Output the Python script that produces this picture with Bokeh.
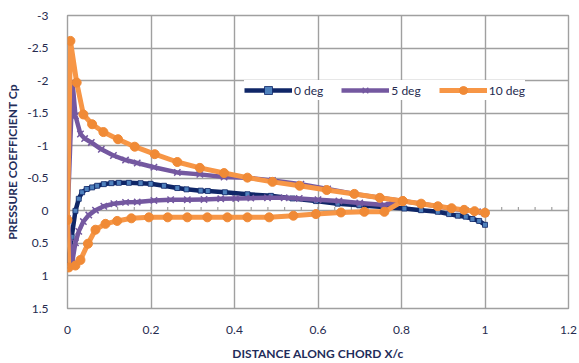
from bokeh.plotting import figure
from bokeh.models import Range1d, FixedTicker, Legend, LegendItem
from bokeh.embed import file_html
from bokeh.resources import INLINE
import numpy as np

# Pressure coefficient along the chord for three angles of attack
# 0 deg: leading edge to trailing edge (both surfaces coincide)
x_0deg = [0.0, 0.010, 0.019, 0.027, 0.035, 0.046, 0.059, 0.071, 0.087, 0.105, 0.123,
          0.147, 0.175, 0.199, 0.231, 0.263, 0.285, 0.319, 0.336, 0.377, 0.431, 0.487,
          0.539, 0.595, 0.647, 0.699, 0.755, 0.807, 0.847, 0.887, 0.914, 0.935, 0.954,
          0.970, 0.986, 1.0]
cp_0deg = [0.84, 0.40, 0.0, -0.185, -0.285, -0.335, -0.36, -0.385, -0.41, -0.425, -0.43,
           -0.43, -0.425, -0.415, -0.385, -0.35, -0.33, -0.31, -0.305, -0.285, -0.255, -0.23,
           -0.19, -0.15, -0.11, -0.085, -0.06, -0.035, -0.01, 0.015, 0.05, 0.075, 0.09,
           0.125, 0.155, 0.215]

# 5 deg: upper surface (x = 0.8 towards the nose), nose, lower surface, then on to the trailing edge
x_5deg = [0.803, 0.748, 0.687, 0.623, 0.559, 0.491, 0.431, 0.375, 0.317, 0.263, 0.207,
          0.167, 0.139, 0.110, 0.081, 0.057, 0.041, 0.031, 0.019, 0.012,
          0.0, 0.011,
          0.019, 0.027, 0.038, 0.051, 0.067, 0.087, 0.111, 0.139, 0.167, 0.207, 0.247,
          0.287, 0.327, 0.367, 0.403, 0.439, 0.479, 0.519, 0.555, 0.600, 0.650, 0.700,
          0.759,
          0.803, 0.847, 0.887, 0.918, 0.950, 0.982, 1.0]
cp_5deg = [-0.15, -0.20, -0.26, -0.335, -0.41, -0.465, -0.51, -0.52, -0.56, -0.59, -0.67,
           -0.735, -0.78, -0.85, -0.945, -1.05, -1.11, -1.18, -1.46, -1.98,
           0.12, 0.80,
           0.49, 0.315, 0.165, 0.065, -0.01, -0.07, -0.11, -0.13, -0.135, -0.16, -0.17,
           -0.17, -0.175, -0.185, -0.19, -0.195, -0.2, -0.2, -0.19, -0.17, -0.15, -0.12,
           -0.09,
           -0.15, -0.11, -0.07, -0.035, -0.01, 0.015, 0.04]

# 10 deg: same ordering as above
x_10deg = [0.803, 0.748, 0.687, 0.621, 0.556, 0.491, 0.431, 0.375, 0.317, 0.263, 0.209,
           0.161, 0.121, 0.086, 0.059, 0.038, 0.022, 0.007,
           0.0, 0.003,
           0.019, 0.031, 0.049, 0.067, 0.091, 0.119, 0.153, 0.195, 0.240, 0.287, 0.335,
           0.383, 0.431, 0.483, 0.541, 0.595, 0.655, 0.711, 0.759,
           0.803, 0.847, 0.887, 0.920, 0.950, 0.975, 1.0]
cp_10deg = [-0.15, -0.20, -0.26, -0.32, -0.385, -0.445, -0.51, -0.58, -0.66, -0.75, -0.87,
            -0.985, -1.10, -1.21, -1.33, -1.48, -1.97, -2.61,
            0.14, 0.87,
            0.84, 0.755, 0.505, 0.29, 0.20, 0.155, 0.115, 0.10, 0.10, 0.10, 0.10,
            0.10, 0.10, 0.10, 0.075, 0.05, 0.025, 0.015, 0.015,
            -0.15, -0.11, -0.07, -0.04, -0.015, 0.005, 0.03]

series_names = ["0 deg", "5 deg", "10 deg"]

x_ticks = [0, 0.2, 0.4, 0.6, 0.8, 1.0, 1.2]
x_tick_labels = ["0", "0.2", "0.4", "0.6", "0.8", "1", "1.2"]
y_ticks = [-3, -2.5, -2, -1.5, -1, -0.5, 0, 0.5, 1, 1.5]
y_tick_labels = ["-3", "-2.5", "-2", "-1.5", "-1", "-0.5", "0", "0.5", "1", "1.5"]

FONT = "Lato"
TEXT = "#262b4f"
GRID = "#a0a0a0"

p = figure(width=579, height=363, output_backend="svg", toolbar_location=None,
           x_range=Range1d(0, 1.2), y_range=Range1d(1.5, -3),
           min_border_left=67, min_border_right=11, min_border_top=15,
           min_border_bottom=49)
p.background_fill_color = "white"
p.border_fill_color = "white"
p.outline_line_color = GRID
p.outline_line_width = 1.4

for ax in (p.xaxis[0], p.yaxis[0]):
    ax.axis_line_color = None
    ax.major_tick_line_color = None
    ax.minor_tick_line_color = None
    ax.major_label_text_font = FONT
    ax.major_label_text_font_size = "12px"
    ax.major_label_text_color = TEXT
    ax.axis_label_text_font = FONT
    ax.axis_label_text_font_size = "12px"
    ax.axis_label_text_font_style = "bold"
    ax.axis_label_text_color = "#1f2d5a"

p.xaxis.ticker = FixedTicker(ticks=x_ticks)
p.xaxis.major_label_overrides = {t: s for t, s in zip(x_ticks, x_tick_labels)}
p.xaxis.major_label_standoff = 11
p.xaxis.axis_label = "DISTANCE ALONG CHORD X/c"
p.xaxis.axis_label_standoff = 9

p.yaxis.ticker = FixedTicker(ticks=y_ticks)
p.yaxis.major_label_overrides = {t: s for t, s in zip(y_ticks, y_tick_labels)}
p.yaxis.major_label_standoff = 13
p.yaxis.axis_label = "PRESSURE COEFFICIENT Cp"
p.yaxis.axis_label_standoff = 4

p.xgrid.ticker = FixedTicker(ticks=x_ticks)
p.ygrid.ticker = FixedTicker(ticks=y_ticks)
for g in (p.xgrid[0], p.ygrid[0]):
    g.grid_line_color = GRID
    g.grid_line_width = 1.4

# small tick marks along the Cp = 0 line
minor_x = np.arange(0, 1.2001, 0.04)
p.segment(x0=minor_x, y0=np.zeros_like(minor_x), x1=minor_x, y1=np.full_like(minor_x, -0.06),
          line_color=GRID, line_width=1.2)

items = []
# 0 deg
r0l = p.line(x_0deg, cp_0deg, line_color="#0f2667", line_width=4.5, line_join="round")
r0m = p.scatter(x_0deg, cp_0deg, marker="square", size=5, fill_color="#4f81bd",
                line_color="#0f2667", line_width=0.8)
items.append(LegendItem(label=series_names[0], renderers=[r0l, r0m]))
# 5 deg
r5l = p.line(x_5deg, cp_5deg, line_color="#7458a0", line_width=4.5, line_join="round")
r5m = p.scatter(x_5deg, cp_5deg, marker="x", size=9, line_color="#7458a0", line_width=1.5)
items.append(LegendItem(label=series_names[1], renderers=[r5l, r5m]))
# 10 deg
r10l = p.line(x_10deg, cp_10deg, line_color="#f79646", line_width=5, line_join="round")
r10m = p.scatter(x_10deg, cp_10deg, marker="circle", size=9, fill_color="#f08a36",
                 line_color="#f08a36")
items.append(LegendItem(label=series_names[2], renderers=[r10l, r10m]))

legend = Legend(items=items, orientation="horizontal", location=(177, 208),
                glyph_width=48, glyph_height=20, label_standoff=2, spacing=18,
                padding=0, margin=0, border_line_color=None,
                background_fill_color="white", background_fill_alpha=1.0,
                label_text_font=FONT, label_text_font_size="12px",
                label_text_color=TEXT, label_height=20)
p.add_layout(legend)

open("out.html", "w").write(file_html(p, INLINE))
